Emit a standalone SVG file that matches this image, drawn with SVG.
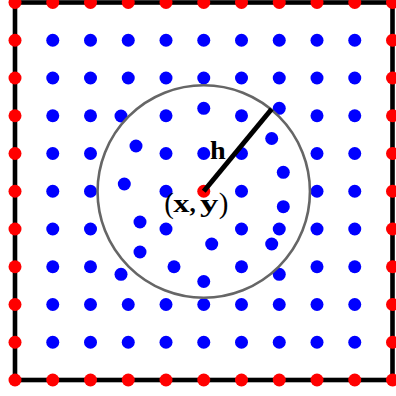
<svg xmlns="http://www.w3.org/2000/svg" width="396" height="396" viewBox="0 0 396 396">
<style>
.b{fill:#0000ff}
.r{fill:#ff0000}
.lbl{font-family:"Liberation Serif","Times New Roman",serif;font-size:25px;fill:#000}
.bold{font-weight:bold}
.par{font-size:29px}
</style>
<rect width="396" height="396" fill="#fff"/>
<g id="domain">
<rect x="15" y="2.5" width="377.5" height="377.5" fill="none" stroke="#000" stroke-width="4.6"/>
</g>
<g id="boundary-points">
<circle class="r" r="6.5" cx="15" cy="2.5"/><circle class="r" r="6.5" cx="52.75" cy="2.5"/><circle class="r" r="6.5" cx="90.5" cy="2.5"/><circle class="r" r="6.5" cx="128.25" cy="2.5"/><circle class="r" r="6.5" cx="166" cy="2.5"/><circle class="r" r="6.5" cx="203.75" cy="2.5"/><circle class="r" r="6.5" cx="241.5" cy="2.5"/><circle class="r" r="6.5" cx="279.25" cy="2.5"/><circle class="r" r="6.5" cx="317" cy="2.5"/><circle class="r" r="6.5" cx="354.75" cy="2.5"/><circle class="r" r="6.5" cx="392.5" cy="2.5"/>
<circle class="r" r="6.5" cx="15" cy="380"/><circle class="r" r="6.5" cx="52.75" cy="380"/><circle class="r" r="6.5" cx="90.5" cy="380"/><circle class="r" r="6.5" cx="128.25" cy="380"/><circle class="r" r="6.5" cx="166" cy="380"/><circle class="r" r="6.5" cx="203.75" cy="380"/><circle class="r" r="6.5" cx="241.5" cy="380"/><circle class="r" r="6.5" cx="279.25" cy="380"/><circle class="r" r="6.5" cx="317" cy="380"/><circle class="r" r="6.5" cx="354.75" cy="380"/><circle class="r" r="6.5" cx="392.5" cy="380"/>
<circle class="r" r="6.5" cx="15" cy="40.25"/><circle class="r" r="6.5" cx="15" cy="78"/><circle class="r" r="6.5" cx="15" cy="115.75"/><circle class="r" r="6.5" cx="15" cy="153.5"/><circle class="r" r="6.5" cx="15" cy="191.25"/><circle class="r" r="6.5" cx="15" cy="229"/><circle class="r" r="6.5" cx="15" cy="266.75"/><circle class="r" r="6.5" cx="15" cy="304.5"/><circle class="r" r="6.5" cx="15" cy="342.25"/>
<circle class="r" r="6.5" cx="392.5" cy="40.25"/><circle class="r" r="6.5" cx="392.5" cy="78"/><circle class="r" r="6.5" cx="392.5" cy="115.75"/><circle class="r" r="6.5" cx="392.5" cy="153.5"/><circle class="r" r="6.5" cx="392.5" cy="191.25"/><circle class="r" r="6.5" cx="392.5" cy="229"/><circle class="r" r="6.5" cx="392.5" cy="266.75"/><circle class="r" r="6.5" cx="392.5" cy="304.5"/><circle class="r" r="6.5" cx="392.5" cy="342.25"/>
</g>
<g id="grid-points">
<circle class="b" r="6.5" cx="52.75" cy="40.25"/><circle class="b" r="6.5" cx="90.5" cy="40.25"/><circle class="b" r="6.5" cx="128.25" cy="40.25"/><circle class="b" r="6.5" cx="166" cy="40.25"/><circle class="b" r="6.5" cx="203.75" cy="40.25"/><circle class="b" r="6.5" cx="241.5" cy="40.25"/><circle class="b" r="6.5" cx="279.25" cy="40.25"/><circle class="b" r="6.5" cx="317" cy="40.25"/><circle class="b" r="6.5" cx="354.75" cy="40.25"/>
<circle class="b" r="6.5" cx="52.75" cy="78"/><circle class="b" r="6.5" cx="90.5" cy="78"/><circle class="b" r="6.5" cx="128.25" cy="78"/><circle class="b" r="6.5" cx="166" cy="78"/><circle class="b" r="6.5" cx="203.75" cy="78"/><circle class="b" r="6.5" cx="241.5" cy="78"/><circle class="b" r="6.5" cx="279.25" cy="78"/><circle class="b" r="6.5" cx="317" cy="78"/><circle class="b" r="6.5" cx="354.75" cy="78"/>
<circle class="b" r="6.5" cx="52.75" cy="115.75"/><circle class="b" r="6.5" cx="90.5" cy="115.75"/><circle class="b" r="6.5" cx="317" cy="115.75"/><circle class="b" r="6.5" cx="354.75" cy="115.75"/>
<circle class="b" r="6.5" cx="52.75" cy="153.5"/><circle class="b" r="6.5" cx="90.5" cy="153.5"/><circle class="b" r="6.5" cx="317" cy="153.5"/><circle class="b" r="6.5" cx="354.75" cy="153.5"/>
<circle class="b" r="6.5" cx="52.75" cy="191.25"/><circle class="b" r="6.5" cx="90.5" cy="191.25"/><circle class="b" r="6.5" cx="317" cy="191.25"/><circle class="b" r="6.5" cx="354.75" cy="191.25"/>
<circle class="b" r="6.5" cx="52.75" cy="229"/><circle class="b" r="6.5" cx="90.5" cy="229"/><circle class="b" r="6.5" cx="317" cy="229"/><circle class="b" r="6.5" cx="354.75" cy="229"/>
<circle class="b" r="6.5" cx="52.75" cy="266.75"/><circle class="b" r="6.5" cx="90.5" cy="266.75"/><circle class="b" r="6.5" cx="317" cy="266.75"/><circle class="b" r="6.5" cx="354.75" cy="266.75"/>
<circle class="b" r="6.5" cx="52.75" cy="304.5"/><circle class="b" r="6.5" cx="90.5" cy="304.5"/><circle class="b" r="6.5" cx="128.25" cy="304.5"/><circle class="b" r="6.5" cx="166" cy="304.5"/><circle class="b" r="6.5" cx="203.75" cy="304.5"/><circle class="b" r="6.5" cx="241.5" cy="304.5"/><circle class="b" r="6.5" cx="279.25" cy="304.5"/><circle class="b" r="6.5" cx="317" cy="304.5"/><circle class="b" r="6.5" cx="354.75" cy="304.5"/>
<circle class="b" r="6.5" cx="52.75" cy="342.25"/><circle class="b" r="6.5" cx="90.5" cy="342.25"/><circle class="b" r="6.5" cx="128.25" cy="342.25"/><circle class="b" r="6.5" cx="166" cy="342.25"/><circle class="b" r="6.5" cx="203.75" cy="342.25"/><circle class="b" r="6.5" cx="241.5" cy="342.25"/><circle class="b" r="6.5" cx="279.25" cy="342.25"/><circle class="b" r="6.5" cx="317" cy="342.25"/><circle class="b" r="6.5" cx="354.75" cy="342.25"/>
</g>
<g id="neighbourhood-points">
<circle class="b" r="6.5" cx="121" cy="116"/><circle class="b" r="6.5" cx="166" cy="115.75"/><circle class="b" r="6.5" cx="203.75" cy="108.3"/><circle class="b" r="6.5" cx="241.5" cy="115.75"/><circle class="b" r="6.5" cx="279.25" cy="108.3"/>
<circle class="b" r="6.5" cx="136" cy="146"/><circle class="b" r="6.5" cx="166" cy="153.5"/><circle class="b" r="6.5" cx="203.75" cy="153.5"/><circle class="b" r="6.5" cx="241.5" cy="153.5"/><circle class="b" r="6.5" cx="271.7" cy="138.5"/>
<circle class="b" r="6.5" cx="124.3" cy="184"/><circle class="b" r="6.5" cx="166" cy="191.25"/><circle class="b" r="6.5" cx="241.5" cy="191.25"/><circle class="b" r="6.5" cx="283.3" cy="172.3"/><circle class="b" r="6.5" cx="283.3" cy="206.7"/>
<circle class="b" r="6.5" cx="140" cy="222"/><circle class="b" r="6.5" cx="166" cy="229"/><circle class="b" r="6.5" cx="241.5" cy="229"/><circle class="b" r="6.5" cx="279.25" cy="229"/>
<circle class="b" r="6.5" cx="211.7" cy="244"/><circle class="b" r="6.5" cx="271.7" cy="244"/><circle class="b" r="6.5" cx="140" cy="252"/>
<circle class="b" r="6.5" cx="121" cy="274.3"/><circle class="b" r="6.5" cx="174" cy="266.75"/><circle class="b" r="6.5" cx="203.75" cy="281.5"/><circle class="b" r="6.5" cx="241.5" cy="266.75"/><circle class="b" r="6.5" cx="279.25" cy="274.3"/>
</g>
<g id="support-circle">
<circle cx="203.75" cy="191.5" r="106.2" fill="none" stroke="#666" stroke-width="2.6"/>
</g>
<g id="center">
<circle class="r" r="6.5" cx="203.75" cy="191.25"/>
</g>
<g id="connectors">
<line x1="203.75" y1="191.25" x2="271.7" y2="109" stroke="#000" stroke-width="5"/>
</g>
<g id="labels">
<text class="lbl bold" x="210" y="158.5" textLength="15.7" lengthAdjust="spacingAndGlyphs">h</text>
<text class="lbl par" x="164.3" y="212.8">(</text>
<text class="lbl bold" x="173.2" y="211.5" textLength="16.2" lengthAdjust="spacingAndGlyphs">x</text>
<text class="lbl bold" x="189.6" y="211.5">,</text>
<text class="lbl bold" x="200" y="211.5" textLength="18.4" lengthAdjust="spacingAndGlyphs">y</text>
<text class="lbl par" x="218.8" y="212.8">)</text>
</g>
</svg>
